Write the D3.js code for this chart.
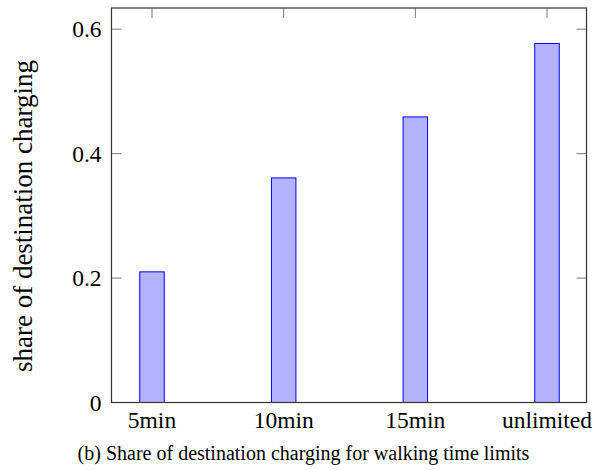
<!DOCTYPE html>
<html>
<head>
<meta charset="utf-8">
<script src="https://cdn.jsdelivr.net/npm/d3@7"></script>
<style>
  body { margin: 0; background: #fff; }
</style>
</head>
<body>
<div id="chart"></div>
<script>
// values
var categories = ["5min", "10min", "15min", "unlimited"];
var shares = [0.21, 0.361, 0.459, 0.577];
var yTicks = [0, 0.2, 0.4, 0.6];

var width = 606, height = 470;
var serif = "'Liberation Serif', serif";
// plot box (note: "top" is reserved on window, so use boxTop)
var boxLeft = 111.5, boxRight = 586.5, boxTop = 8, boxBottom = 402.5;

var svg = d3.select("#chart").append("svg")
  .attr("width", width)
  .attr("height", height)
  .style("font-family", serif);

var x = d3.scalePoint()
  .domain(categories)
  .range([152, 547]);

var y = d3.scaleLinear()
  .domain([0, 0.6])
  .range([boxBottom, 29.2]);

var barW = 24.5;

// bars
svg.selectAll("rect.bar")
  .data(shares)
  .enter()
  .append("rect")
  .attr("class", "bar")
  .attr("x", function(d, i){ return x(categories[i]) - barW/2 })
  .attr("y", function(d){ return y(d) })
  .attr("width", barW)
  .attr("height", function(d){ return boxBottom - y(d) })
  .attr("fill", "#b3b3ff")
  .attr("stroke", "#0000ff")
  .attr("stroke-width", 1);

// ticks, drawn inward on all four sides
var tickLen = 10;
var tickColor = "#777";
var tg = svg.append("g");
yTicks.forEach(function(t){
  tg.append("line").attr("x1", boxLeft).attr("x2", boxLeft + tickLen)
    .attr("y1", y(t)).attr("y2", y(t))
    .attr("stroke", tickColor).attr("stroke-width", 1);
  tg.append("line").attr("x1", boxRight - tickLen).attr("x2", boxRight)
    .attr("y1", y(t)).attr("y2", y(t))
    .attr("stroke", tickColor).attr("stroke-width", 1);
});
categories.forEach(function(c){
  tg.append("line").attr("x1", x(c)).attr("x2", x(c))
    .attr("y1", boxTop).attr("y2", boxTop + tickLen)
    .attr("stroke", tickColor).attr("stroke-width", 1);
});

// box
svg.append("rect")
  .attr("x", boxLeft).attr("y", boxTop)
  .attr("width", boxRight - boxLeft).attr("height", boxBottom - boxTop)
  .attr("fill", "none")
  .attr("stroke", "#333")
  .attr("stroke-width", 1.2);

// tick labels
svg.selectAll("text.ylab")
  .data(yTicks)
  .enter()
  .append("text")
  .attr("class", "ylab")
  .attr("x", boxLeft - 10)
  .attr("y", function(d){ return y(d) + 8 })
  .attr("text-anchor", "end")
  .attr("font-family", serif)
  .attr("font-size", 23.5)
  .text(function(d){ return d === 0 ? "0" : d3.format(".1f")(d) });

svg.selectAll("text.xlab")
  .data(categories)
  .enter()
  .append("text")
  .attr("class", "xlab")
  .attr("x", function(d){ return x(d) })
  .attr("y", 428)
  .attr("text-anchor", "middle")
  .attr("font-family", serif)
  .attr("font-size", 23.5)
  .text(function(d){ return d });

// axis label
svg.append("text")
  .attr("transform", "translate(32,216) rotate(-90)")
  .attr("text-anchor", "middle")
  .attr("font-family", serif)
  .attr("font-size", 27)
  .text("share of destination charging");

// caption
svg.append("text")
  .attr("x", 303.5)
  .attr("y", 460)
  .attr("text-anchor", "middle")
  .attr("font-family", serif)
  .attr("font-size", 20)
  .text("(b) Share of destination charging for walking time limits");
</script>
</body>
</html>
